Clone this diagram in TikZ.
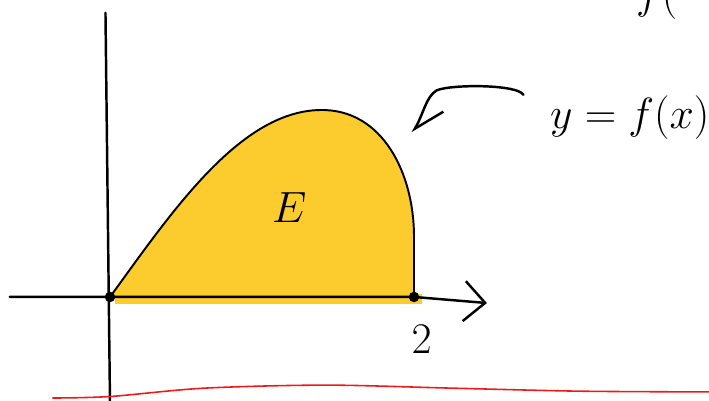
\documentclass[tikz,border=0pt]{standalone}
\usetikzlibrary{arrows.meta}
\begin{document}
\begin{tikzpicture}[x=3.04cm,y=3.04cm,
    ink/.style={line width=1.4pt,line cap=round,line join=round},
    dot/.style={circle,fill=black,inner sep=0pt,minimum size=2.1mm},
    bigmath/.style={font=\fontsize{25}{30}\selectfont}]
    \definecolor{areayellow}{RGB}{252,203,46}
    \definecolor{basered}{RGB}{240,25,25}

    \useasboundingbox (-0.724,-0.684) rectangle (3.941,1.954);
    \clip (-0.724,-0.684) rectangle (3.941,1.954);

    % region E under the curve
    \fill[areayellow] (0.03,0.02) rectangle (2.05,-0.045);
    \filldraw[fill=areayellow,draw=black,line width=1.1pt,line cap=round]
        (0,0) .. controls (0.40,0.55) and (0.85,1.22) .. (1.38,1.23)
        .. controls (1.80,1.24) and (2.00,0.80) .. (2,0.40) -- (2,0);
    \node[font=\fontsize{32}{36}\selectfont] (E) at (1.18,0.59) {$E$};

    % axes
    \draw[ink] (-0.03,1.87)--(0,-0.72);
    \draw[ink,-{Straight Barb[length=4.2mm,width=8mm]}]
        (-0.66,0)--(2,0)--(2.48,-0.04);

    % marked points
    \node[dot] (O) at (0,0) {};
    \node[dot] (A) at (2,0) {};
    \node[bigmath] (two) at (2.05,-0.28) {$2$};

    % the curve and its label
    \node[bigmath] (flabel) at (3.42,1.18) {$y=f(x)$};
    \coordinate (ptrstart) at (2.72,1.33);
    \coordinate (ptrend) at (1.99,1.08);
    \draw[ink,-{Straight Barb[left,length=5.8mm,width=6.4mm]}]
        (ptrstart) .. controls (2.68,1.40) and (2.25,1.40) .. (2.15,1.36)
        .. controls (2.08,1.32) and (2.06,1.20) .. (ptrend);
    \node[bigmath,anchor=base west] (ftop) at (3.42,1.90) {$f($};

    % red rule at the bottom
    \draw[basered,line width=0.9pt]
        plot[smooth] coordinates {(-0.38,-0.665) (0,-0.655) (0.62,-0.60)
        (1.42,-0.58) (2.25,-0.60) (3.1,-0.62) (4.0,-0.625)};
\end{tikzpicture}
\end{document}
